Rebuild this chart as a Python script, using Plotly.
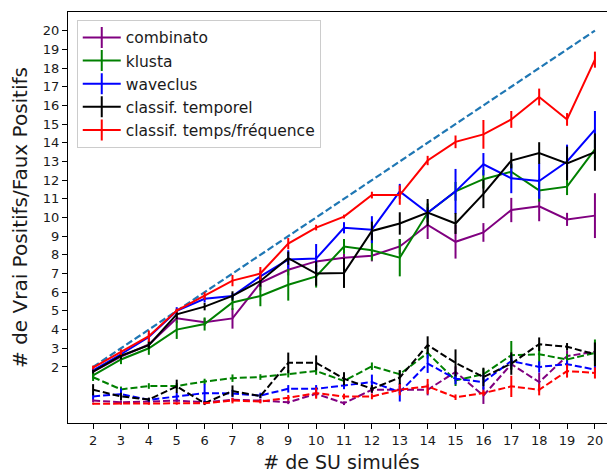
import plotly.graph_objects as go

n_su = list(range(2, 21))
y_ticks = list(range(2, 21))

algos = ["combinato", "klusta", "waveclus", "classif. temporel", "classif. temps/fréquence"]
colors = ["purple", "green", "blue", "black", "red"]

combinato_tp = [1.75, 2.55, 3.2, 4.6, 4.4, 4.6, 6.5, 7.2, 7.65, 7.85, 7.95, 8.45, 9.6, 8.7, 9.2, 10.4, 10.6, 9.9, 10.1]
combinato_tp_err = [0.1, 0.15, 0.2, 0.25, 0.2, 0.55, 0.4, 0.3, 0.3, 0.2, 0.3, 0.4, 0.75, 0.9, 0.5, 0.65, 0.8, 0.35, 1.2]
klusta_tp = [1.55, 2.4, 3.0, 4.0, 4.3, 5.45, 5.8, 6.4, 6.85, 8.45, 8.25, 7.85, 10.25, 11.4, 12.05, 12.45, 11.45, 11.65, 13.65]
klusta_tp_err = [0.15, 0.25, 0.35, 0.5, 0.35, 0.4, 0.55, 0.85, 0.6, 0.4, 0.55, 1.0, 0.5, 0.5, 0.5, 0.4, 0.6, 0.45, 0.5]
waveclus_tp = [1.82, 2.68, 3.6, 5.0, 5.65, 5.8, 6.85, 7.75, 7.8, 9.45, 9.35, 11.4, 10.25, 11.4, 12.85, 12.1, 11.95, 13.0, 14.7]
waveclus_tp_err = [0.1, 0.2, 0.2, 0.2, 0.2, 0.15, 0.3, 0.5, 0.78, 0.3, 0.72, 0.4, 0.3, 1.2, 0.6, 0.8, 0.95, 0.9, 1.0]
temporel_tp = [1.75, 2.6, 3.17, 4.82, 5.23, 5.8, 6.6, 7.82, 7.0, 7.03, 9.28, 9.68, 10.27, 9.68, 11.26, 13.05, 13.45, 12.9, 13.5]
temporel_tp_err = [0.1, 0.2, 0.2, 0.27, 0.2, 0.25, 0.3, 0.35, 0.65, 0.8, 0.5, 0.6, 0.72, 0.56, 0.76, 0.42, 0.58, 0.9, 1.0]
tf_tp = [1.97, 2.8, 3.65, 5.02, 5.8, 6.62, 7.0, 8.6, 9.46, 10.05, 11.2, 11.2, 13.05, 14.05, 14.45, 15.25, 16.45, 15.25, 18.45]
tf_tp_err = [0.1, 0.15, 0.3, 0.1, 0.2, 0.3, 0.35, 0.3, 0.15, 0.1, 0.18, 0.52, 0.25, 0.34, 0.77, 0.45, 0.45, 0.34, 0.43]

combinato_fp = [0.2, 0.11, 0.15, 0.2, 0.11, 0.24, 0.2, 0.11, 0.56, 0.06, 0.78, 0.78, 0.78, 1.73, 0.47, 2.15, 1.19, 2.58, 2.81]
combinato_fp_err = [0.1, 0.1, 0.1, 0.1, 0.1, 0.1, 0.1, 0.1, 0.2, 0.1, 0.2, 0.2, 0.3, 0.3, 0.45, 0.3, 0.5, 0.3, 0.5]
klusta_fp = [1.45, 0.8, 0.98, 0.98, 1.22, 1.4, 1.46, 1.64, 1.78, 1.25, 2.04, 1.61, 2.75, 1.28, 1.61, 2.63, 2.68, 2.4, 2.75]
klusta_fp_err = [0.2, 0.15, 0.15, 0.15, 0.15, 0.2, 0.15, 0.2, 0.2, 0.2, 0.2, 0.2, 0.3, 0.3, 0.3, 0.76, 0.6, 0.3, 0.72]
waveclus_fp = [0.42, 0.55, 0.24, 0.42, 0.6, 0.58, 0.47, 0.83, 0.83, 1.01, 1.19, 0.65, 2.18, 1.37, 1.19, 2.32, 2.0, 2.15, 1.86]
waveclus_fp_err = [0.15, 0.3, 0.1, 0.2, 0.5, 0.2, 0.15, 0.2, 0.2, 0.2, 0.4, 0.5, 0.5, 0.3, 0.4, 0.3, 0.3, 0.2, 0.2]
temporel_fp = [0.78, 0.42, 0.26, 0.96, 0.06, 0.71, 0.44, 2.22, 2.22, 1.37, 0.83, 1.43, 3.17, 2.22, 1.46, 2.18, 3.22, 3.08, 2.68]
temporel_fp_err = [0.3, 0.2, 0.1, 0.36, 0.1, 0.3, 0.1, 0.55, 0.4, 0.35, 0.2, 0.4, 0.47, 0.72, 0.5, 0.6, 0.36, 0.2, 0.63]
tf_fp = [0.03, 0.03, 0.03, 0.03, 0.06, 0.2, 0.15, 0.35, 0.6, 0.42, 0.42, 0.78, 0.96, 0.38, 0.6, 0.96, 0.78, 1.78, 1.68]
tf_fp_err = [0.05, 0.05, 0.05, 0.05, 0.05, 0.15, 0.1, 0.15, 0.3, 0.15, 0.15, 0.3, 0.4, 0.15, 0.15, 0.57, 0.3, 0.35, 0.3]

ideal = n_su

tp_list = [combinato_tp, klusta_tp, waveclus_tp, temporel_tp, tf_tp]
tp_err_list = [combinato_tp_err, klusta_tp_err, waveclus_tp_err, temporel_tp_err, tf_tp_err]
fp_list = [combinato_fp, klusta_fp, waveclus_fp, temporel_fp, tf_fp]
fp_err_list = [combinato_fp_err, klusta_fp_err, waveclus_fp_err, temporel_fp_err, tf_fp_err]

FONT = "DejaVu Sans"
fig = go.Figure()

fig.add_trace(go.Scatter(x=n_su, y=ideal, mode="lines", showlegend=False,
                         line=dict(color="#1f77b4", width=2.2, dash="7px,3px")))

for name, c, tp, tpe, fp, fpe in zip(algos, colors, tp_list, tp_err_list, fp_list, fp_err_list):
    fig.add_trace(go.Scatter(x=n_su, y=tp, mode="lines", showlegend=False,
                             line=dict(color=c, width=2),
                             error_y=dict(type="data", array=tpe, width=0, thickness=2, color=c)))
    fig.add_trace(go.Scatter(x=n_su, y=fp, mode="lines", showlegend=False,
                             line=dict(color=c, width=2, dash="7px,3px"),
                             error_y=dict(type="data", array=fpe, width=0, thickness=2, color=c)))

for name, c in zip(algos, colors):
    fig.add_trace(go.Scatter(x=[None], y=[None], mode="lines+markers", name=name,
                             line=dict(color=c, width=2),
                             marker=dict(symbol="line-ns-open", size=15, color=c,
                                         line=dict(color=c, width=2))))

# page body has an 8px margin: figure is sized to fit the 615x474 window
fig.update_layout(
    width=607, height=466,
    margin=dict(l=60, r=0, t=4, b=51, autoexpand=False),
    paper_bgcolor="white", plot_bgcolor="white",
    font=dict(family=FONT, size=13, color="black"),
    legend=dict(x=0.016, y=0.981, xanchor="left", yanchor="top",
                bgcolor="rgba(255,255,255,0.8)", bordercolor="#cccccc", borderwidth=1,
                font=dict(family=FONT, size=15.5, color="#1a1a1a"),
                itemwidth=38, tracegroupgap=0),
    xaxis=dict(range=[1.1, 20.72], tickmode="array", tickvals=n_su,
               ticktext=[str(v) for v in n_su], automargin=False,
               ticks="outside", ticklen=5, tickwidth=1, tickcolor="black",
               showline=True, linecolor="black", linewidth=1, mirror=True,
               showgrid=False, zeroline=False,
               tickfont=dict(family=FONT, size=13, color="#1a1a1a"),
               title=dict(text="# de SU simulés", font=dict(family=FONT, size=19, color="#1a1a1a"),
                          standoff=9)),
    yaxis=dict(range=[-1, 21], tickmode="array", tickvals=y_ticks,
               ticktext=[str(v) for v in y_ticks], automargin=False,
               ticks="outside", ticklen=5, tickwidth=1, tickcolor="black",
               showline=True, linecolor="black", linewidth=1, mirror=False,
               showgrid=False, zeroline=False,
               tickfont=dict(family=FONT, size=13, color="#1a1a1a"),
               title=dict(text="# de Vrai Positifs/Faux Positifs",
                          font=dict(family=FONT, size=20, color="#1a1a1a"), standoff=9)),
)

fig.write_html("out.html")
